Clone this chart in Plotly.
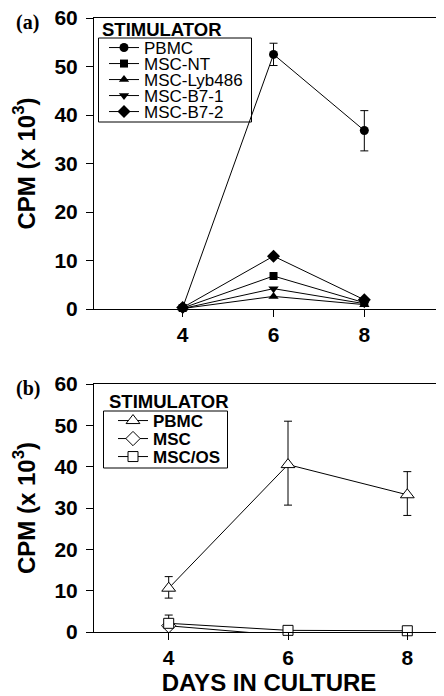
import plotly.graph_objects as go

# ---------------- data ----------------
days = [4, 6, 8]

# panel (a)
a_names = ["PBMC", "MSC-NT", "MSC-Lyb486", "MSC-B7-1", "MSC-B7-2"]
a_pbmc = [0.3, 52.5, 36.8]
a_pbmc_err_plus = [0.0, 2.3, 4.1]
a_pbmc_err_minus = [0.0, 2.3, 4.2]
a_msc_nt = [0.2, 6.8, 1.3]
a_msc_lyb486 = [0.1, 2.6, 0.9]
a_msc_b71 = [0.1, 4.2, 1.1]
a_msc_b72 = [0.3, 10.9, 1.9]

# panel (b)
b_names = ["PBMC", "MSC", "MSC/OS"]
b_pbmc = [10.6, 40.5, 33.2]
b_pbmc_err_plus = [2.8, 10.5, 5.6]
b_pbmc_err_minus = [2.4, 9.8, 5.0]
b_msc = [1.5, -0.9, -0.5]
b_mscos = [2.1, 0.4, 0.3]
b_mscos_err_plus = [2.0, 0.0, 0.0]
b_mscos_err_minus = [0.0, 0.0, 0.0]

y_ticks = [0, 10, 20, 30, 40, 50, 60]
x_ticks = [4, 6, 8]

# ---------------- layout helpers ----------------
# the page body adds an 8px margin, so the figure is drawn 8px smaller
OFF = 8
W, H = 444 - OFF, 696 - OFF
SANS = "Liberation Sans, Arial, sans-serif"
SERIF = "Liberation Serif, Times New Roman, serif"


def px(x):
    return (x - OFF) / W


def py(y):
    return 1 - (y - OFF) / H


fig = go.Figure()

a_series = [
    (a_names[0], a_pbmc, "circle", a_pbmc_err_plus, a_pbmc_err_minus),
    (a_names[1], a_msc_nt, "square", None, None),
    (a_names[2], a_msc_lyb486, "triangle-up", None, None),
    (a_names[3], a_msc_b71, "triangle-down", None, None),
    (a_names[4], a_msc_b72, "diamond", None, None),
]
a_legend_y = [48, 64, 80, 96, 112]
a_sizes = {"circle": 9, "square": 8, "triangle-up": 9, "triangle-down": 9, "diamond": 10}

for i, (name, vals, sym, ep, em) in enumerate(a_series):
    lg = "legend" if i == 0 else f"legend{i + 1}"
    tr = dict(
        x=days, y=vals, name=name, mode="lines+markers",
        line=dict(color="black", width=1),
        marker=dict(symbol=sym, size=a_sizes[sym], color="black",
                    line=dict(color="black", width=0)),
        xaxis="x", yaxis="y", legend=lg, cliponaxis=False,
    )
    if ep is not None:
        tr["error_y"] = dict(type="data", array=ep, arrayminus=em,
                             color="black", thickness=1, width=4)
    fig.add_trace(go.Scatter(**tr))

b_series = [
    (b_names[0], b_pbmc, "triangle-up", 12, b_pbmc_err_plus, b_pbmc_err_minus),
    (b_names[1], b_msc, "diamond", 11, None, None),
    (b_names[2], b_mscos, "square", 10, b_mscos_err_plus, b_mscos_err_minus),
]
b_legend_y = [421, 439, 457]

for j, (name, vals, sym, size, ep, em) in enumerate(b_series):
    lg = f"legend{6 + j}"
    tr = dict(
        x=days, y=vals, name=name, mode="lines+markers",
        line=dict(color="black", width=1),
        marker=dict(symbol=sym, size=size, color="white",
                    line=dict(color="black", width=1)),
        xaxis="x2", yaxis="y2", legend=lg, cliponaxis=False,
    )
    if ep is not None:
        tr["error_y"] = dict(type="data", array=ep, arrayminus=em,
                             color="black", thickness=1, width=4)
    fig.add_trace(go.Scatter(**tr))

axis_common = dict(
    showline=True, linecolor="black", linewidth=1,
    ticks="outside", ticklen=7, tickwidth=1, tickcolor="black",
    showgrid=False, zeroline=False, automargin=False,
    ticklabeloverflow="allow",
    tickfont=dict(family=SANS, size=21, color="black", weight="bold"),
)

layout = dict(
    width=W, height=H,
    margin=dict(l=0, r=0, t=0, b=0),
    paper_bgcolor="white", plot_bgcolor="white",
    font=dict(family=SANS, color="black"),
    xaxis=dict(domain=[px(94), 1], range=[2.046, 9.755], anchor="y",
               tickvals=x_ticks, mirror=True, **axis_common),
    yaxis=dict(domain=[py(309), py(18)], range=[0, 60], anchor="x",
               tickvals=y_ticks, ticklabelstandoff=4,
               title=dict(text="CPM (x 10<sup>3</sup>)", standoff=12,
                          font=dict(family=SANS, size=24, weight="bold")),
               **axis_common),
    xaxis2=dict(domain=[px(94), 1], range=[2.748, 8.615], anchor="y2",
                tickvals=x_ticks, mirror=True,
                title=dict(text="DAYS IN CULTURE", standoff=10,
                           font=dict(family=SANS, size=24, weight="bold")),
                **axis_common),
    yaxis2=dict(domain=[py(632), py(384)], range=[0, 60], anchor="x2",
                tickvals=y_ticks, ticklabelstandoff=4,
                title=dict(text="CPM (x 10<sup>3</sup>)", standoff=12,
                           font=dict(family=SANS, size=24, weight="bold")),
                **axis_common),
    showlegend=True,
)

# one legend per entry so entries can be spaced tightly like the original
for i in range(5):
    key = "legend" if i == 0 else f"legend{i + 1}"
    layout[key] = dict(
        x=px(104), y=py(a_legend_y[i]), xanchor="left", yanchor="middle",
        bgcolor="rgba(0,0,0,0)", borderwidth=0,
        font=dict(family=SANS, size=17, color="black"),
        itemclick=False, itemdoubleclick=False,
    )
for j in range(3):
    key = f"legend{6 + j}"
    layout[key] = dict(
        x=px(113), y=py(b_legend_y[j]), xanchor="left", yanchor="middle",
        bgcolor="rgba(0,0,0,0)", borderwidth=0,
        font=dict(family=SANS, size=17, color="black", weight="bold"),
        itemclick=False, itemdoubleclick=False,
    )

fig.update_layout(**layout)

# legend frames
fig.add_shape(type="rect", xref="paper", yref="paper",
              x0=px(98.5), x1=px(251.5), y0=py(122), y1=py(38),
              line=dict(color="black", width=1), fillcolor="rgba(0,0,0,0)")
fig.add_shape(type="rect", xref="paper", yref="paper",
              x0=px(103.5), x1=px(227.5), y0=py(468), y1=py(411),
              line=dict(color="black", width=1), fillcolor="rgba(0,0,0,0)")

# legend titles and panel letters
fig.add_annotation(text="STIMULATOR", xref="paper", yref="paper",
                   x=px(100), y=py(29.5), xanchor="left", yanchor="middle",
                   showarrow=False,
                   font=dict(family=SANS, size=18.5, color="black", weight="bold"))
fig.add_annotation(text="STIMULATOR", xref="paper", yref="paper",
                   x=px(106.5), y=py(401), xanchor="left", yanchor="middle",
                   showarrow=False,
                   font=dict(family=SANS, size=18.5, color="black", weight="bold"))
fig.add_annotation(text="(a)", xref="paper", yref="paper",
                   x=px(14), y=py(22), xanchor="left", yanchor="middle",
                   showarrow=False,
                   font=dict(family=SERIF, size=20, color="black", weight="bold"))
fig.add_annotation(text="(b)", xref="paper", yref="paper",
                   x=px(14), y=py(388), xanchor="left", yanchor="middle",
                   showarrow=False,
                   font=dict(family=SERIF, size=20, color="black", weight="bold"))

fig.write_html("out.html")
